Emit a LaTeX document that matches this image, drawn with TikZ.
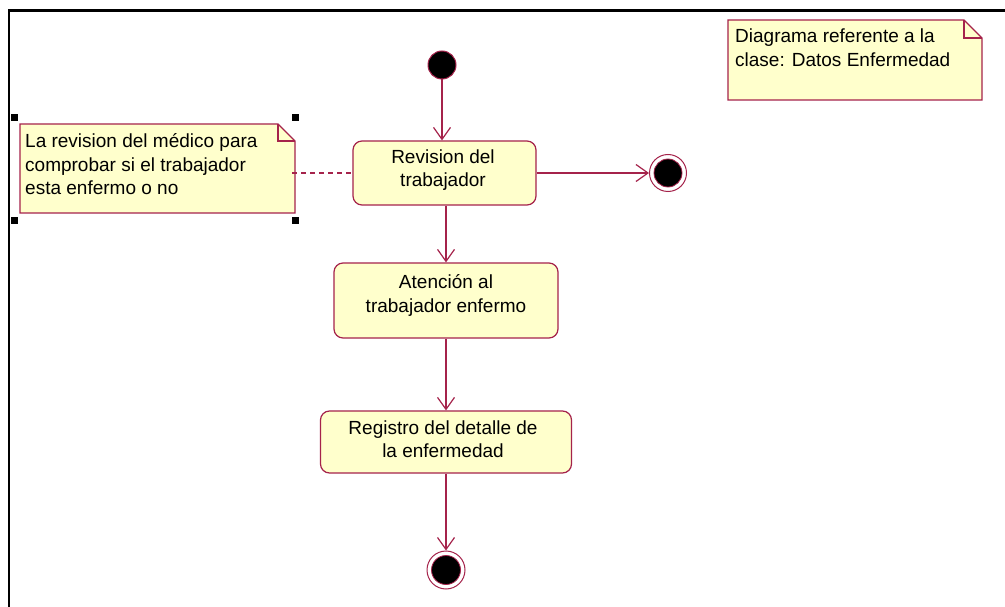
\documentclass[tikz,border=0pt]{standalone}
\usepackage{fontspec}
\setmainfont{Liberation Sans}
\usetikzlibrary{arrows.meta}
\definecolor{umlred}{RGB}{165,35,75}
\definecolor{umlfill}{RGB}{255,255,204}
\begin{document}
\begin{tikzpicture}[x=1pt,y=-1pt,
  font=\fontsize{19}{23.5}\selectfont,
  act/.style={draw=umlred,fill=umlfill,line width=1.2pt,rounded corners=9pt,inner sep=0pt},
  acttext/.style={align=center,inner sep=0pt},
  flow/.style={draw=umlred,line width=1.2pt,-{Straight Barb[length=12pt,width=17pt,line width=1.2pt]}},
  notetext/.style={align=left,inner sep=0pt,anchor=north west},
  notebox/.style={draw=umlred,fill=umlfill,line width=1.2pt,line join=miter},
  handle/.style={fill=black,minimum size=7pt,inner sep=0pt,draw=none}]
\useasboundingbox (0,0) rectangle (1005,607);
\fill[white] (0,0) rectangle (1005,607);
% frame
\draw[black,line width=2.2pt] (9,607) -- (9,10.5) -- (1005,10.5);
% notes
\path[notebox] (20,124) -- (278,124) -- (295,141) -- (295,213) -- (20,213) -- cycle;
\draw[umlred,line width=1.2pt] (278,124) -- (278,141) -- (295,141);
\node[notetext] (n1) at (25,133.5) {La revision del médico para\\comprobar si el trabajador\\esta enfermo o no};
\coordinate (n1e) at (292,173);
\path[notebox] (728,20) -- (964,20) -- (982,38) -- (982,100) -- (728,100) -- cycle;
\draw[umlred,line width=1.2pt] (964,20) -- (964,38) -- (982,38);
\node[notetext] (n2) at (735,29) {Diagrama referente a la\\clase: Datos Enfermedad};
% handles
\node[handle] (h1) at (14,118) {};
\node[handle] (h2) at (295.5,118) {};
\node[handle] (h3) at (14,220.5) {};
\node[handle] (h4) at (295.5,220.5) {};
% initial
\node[circle,fill=black,draw=umlred,line width=1pt,minimum size=28pt,inner sep=0pt] (init) at (442,65) {};
% activities
\node[act,minimum width=183pt,minimum height=64pt] (rev) at (444.5,173) {};
\node[acttext] (revt) at (443,170) {Revision del\\trabajador};
\node[act,minimum width=224pt,minimum height=75pt] (ate) at (446,300.5) {};
\node[acttext] (atet) at (446,295.5) {Atención al\\trabajador enfermo};
\node[act,minimum width=251pt,minimum height=62pt] (reg) at (446,442) {};
\node[acttext] (regt) at (443,439) {Registro del detalle de\\la enfermedad};
% finals
\node[circle,fill=white,draw=umlred,line width=1pt,minimum size=37pt,inner sep=0pt] (fin1) at (668,173) {};
\node[circle,fill=black,draw=umlred,line width=0.8pt,minimum size=28pt,inner sep=0pt] (fin1i) at (fin1.center) {};
\node[circle,fill=white,draw=umlred,line width=1pt,minimum size=38pt,inner sep=0pt] (fin2) at (446,570) {};
\node[circle,fill=black,draw=umlred,line width=0.8pt,minimum size=29pt,inner sep=0pt] (fin2i) at (fin2.center) {};
% connectors
\draw[flow] (init.south) -- (init.south |- rev.north);
\draw[flow] (rev.east) -- (fin1.west);
\draw[flow] (rev.south -| ate.north) -- (ate.north);
\draw[flow] (ate.south) -- (ate.south |- reg.north);
\draw[flow] (reg.south) -- (fin2.north);
\draw[umlred,line width=1.2pt,dashed,dash pattern=on 5pt off 4pt] (n1e) -- (rev.west);
\end{tikzpicture}
\end{document}
